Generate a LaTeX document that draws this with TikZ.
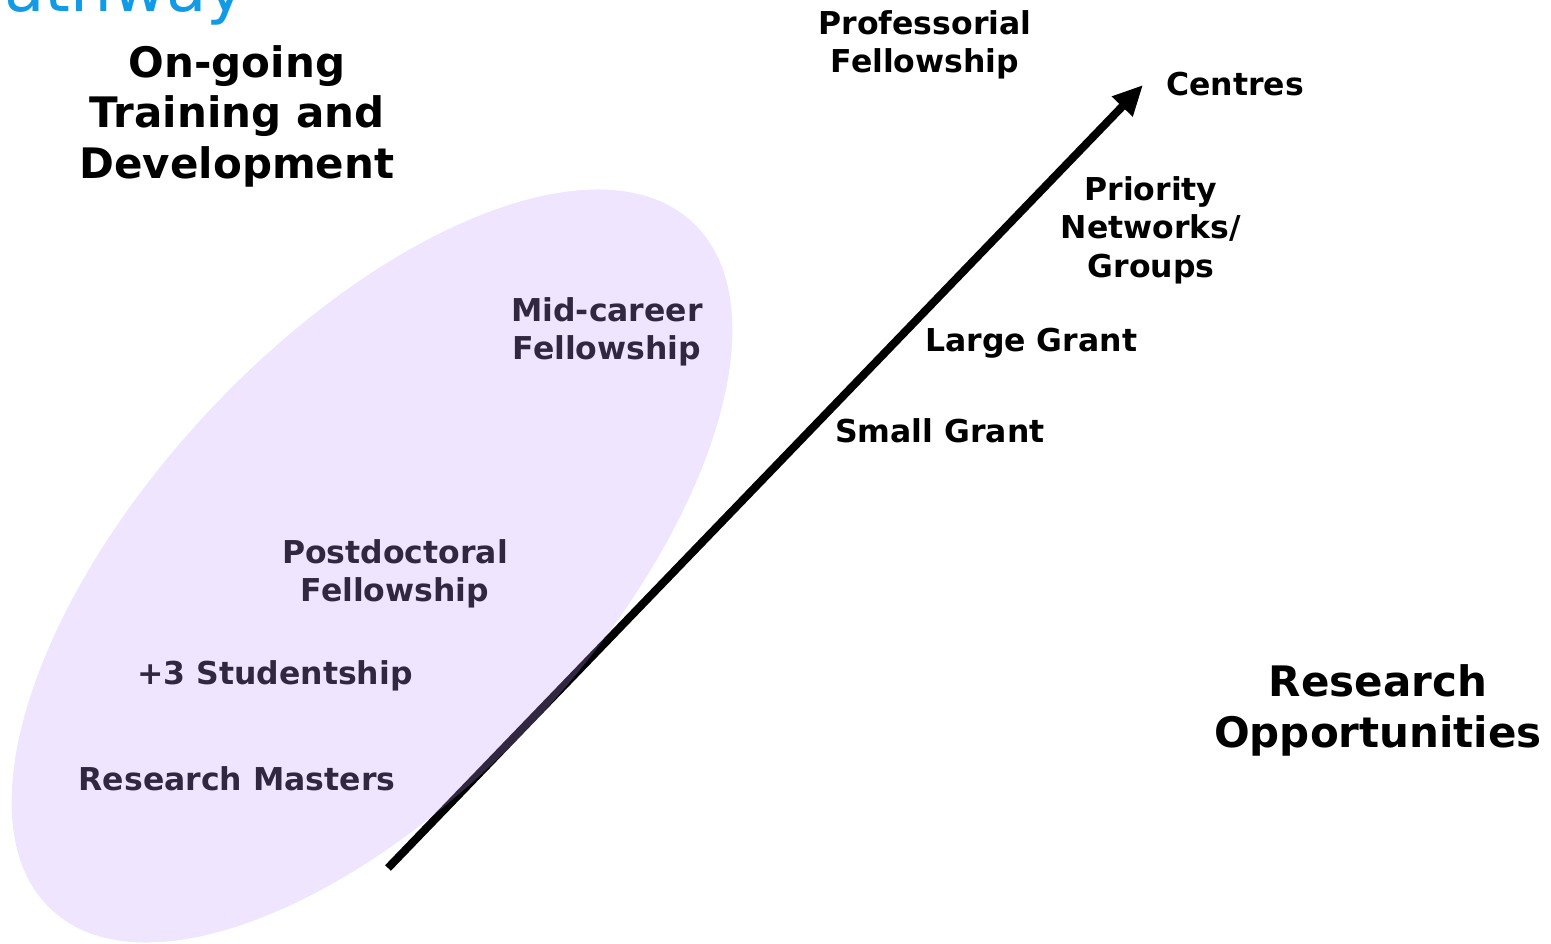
\documentclass[tikz,border=0pt]{standalone}
\usepackage{fontspec}
\setmainfont{DejaVu Sans}
\usetikzlibrary{arrows.meta}
\definecolor{blob}{RGB}{196,154,254}
\definecolor{titleblue}{RGB}{17,155,230}
\begin{document}
\begin{tikzpicture}[x=1pt,y=-1pt,
  lbl/.style={font=\bfseries\fontsize{31.5}{38.5}\selectfont, align=center, inner sep=0pt, anchor=base},
  head/.style={font=\bfseries\fontsize{42}{50.5}\selectfont, align=center, inner sep=0pt, anchor=base},
  pathline/.style={line width=8pt, -{Triangle[length=30pt,width=27pt]}}]
\useasboundingbox (0,0) rectangle (1551,943);
% title remnant
\node[font=\fontsize{66}{76}\selectfont, text=titleblue, inner sep=0pt, anchor=base east] (title) at (246,11) {athway};
% headings (base = baseline of last line)
\node[head] (training) at (237,178) {On-going\\Training and\\Development};
\node[head] (resopp) at (1378,747) {Research\\Opportunities};
% labels on the right
\node[lbl] (prof) at (925,72.5) {Professorial\\Fellowship};
\node[lbl, anchor=base west] (centres) at (1166,95) {Centres};
\node[lbl] (priority) at (1151,277) {Priority\\Networks/\\Groups};
\node[lbl, anchor=base west] (large) at (925,351) {Large Grant};
\node[lbl, anchor=base west] (small) at (835,442) {Small Grant};
% labels in the blob
\node[lbl] (mid) at (607,359.5) {Mid-career\\Fellowship};
\node[lbl] (postdoc) at (395,601.5) {Postdoctoral\\Fellowship};
\node[lbl] (plus3) at (275,684) {+3 Studentship};
\node[lbl] (masters) at (237,790) {Research Masters};
% arrow
\coordinate (arrowstart) at (388,868);
\coordinate (arrowend) at (1143,85);
\draw[pathline] (arrowstart) -- (arrowend);
% translucent blob on top
\fill[blob, fill opacity=0.26, rotate around={47:(372,566)}] (372,566) ellipse [x radius=470pt, y radius=225pt];
\end{tikzpicture}
\end{document}
